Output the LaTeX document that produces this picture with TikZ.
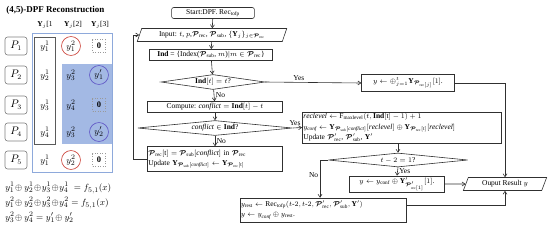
\documentclass[tikz,border=0pt]{standalone}
\usepackage{amsmath,bm}
\usepackage{fontspec}
\setmainfont{Liberation Serif}
\usetikzlibrary{arrows.meta, positioning, shapes.geometric, calc}
\definecolor{cline}{HTML}{303030}
\definecolor{cframe}{HTML}{8EA9DB}
\definecolor{cshade}{HTML}{A3B9E4}
\definecolor{cred}{HTML}{C8372D}
\definecolor{cblue}{HTML}{5B4FC4}
\definecolor{cdot}{HTML}{9A9A9A}
\newcommand{\cP}{\bm{\mathcal{P}}}
\newcommand{\Yb}{\mathbf{Y}}
\newcommand{\rmsub}[1]{\mathrm{#1}}
\tikzset{
  every picture/.style={font=\fontsize{7.5}{8.5}\selectfont, line width=0.6pt},
  proc/.style={draw=cline, rectangle, inner sep=1.5pt, minimum width=#1, minimum height=11pt},
  proc/.default=80,
  multi/.style={align=left, inner sep=0.5pt, font=\fontsize{7.5}{10.5}\selectfont},
  term/.style={proc=#1, rounded corners=2pt},
  io/.style={draw=cline, trapezium, trapezium left angle=70, trapezium right angle=110,
    trapezium stretches=true, minimum width=#1, minimum height=13pt, inner sep=1pt},
  decide/.style={draw=cline, diamond, inner sep=0pt, aspect=8, minimum width=#1, minimum height=15pt},
  arr/.style={-{Straight Barb[length=3pt, width=4pt]}, draw=cline},
  lbl/.style={font=\fontsize{7.5}{8.5}\selectfont, inner sep=1.5pt},
  pbox/.style={draw=gray, rounded corners=2.5pt, minimum width=22pt, minimum height=18pt,
    inner sep=0pt, font=\fontsize{10.5}{11}\selectfont},
  cell/.style={inner sep=0pt, font=\fontsize{9.5}{10}\selectfont},
  rcirc/.style={cell, circle, draw=cred, minimum size=19pt},
  bcirc/.style={cell, circle, draw=cblue, minimum size=19pt},
  zbox/.style={cell, draw=cdot, dotted, fill=white, minimum size=13pt, font=\bfseries\fontsize{8.5}{9}\selectfont},
}
\begin{document}
\begin{tikzpicture}[x=1bp, y=-1bp]
  \useasboundingbox (0,0) rectangle (550,228);
  % left panel: shares held by P_1..P_5
  \node[font=\bfseries\fontsize{9}{10}\selectfont, anchor=west, inner sep=0pt] (title) at (6,10) {(4,5)-DPF Reconstruction};
  \node[cell, font=\fontsize{7.5}{8}\selectfont] (h1) at (45,25) {$\Yb_j$[1};
  \node[cell, font=\fontsize{7.5}{8}\selectfont] (h2) at (73,25) {$\Yb_j$[2]};
  \node[cell, font=\fontsize{7.5}{8}\selectfont] (h3) at (100,25) {$\Yb_j$[3]};
  \draw[cframe, line width=0.8pt] (32,33) rectangle (112,172);
  \fill[cshade] (62,64) rectangle (111.5,144);
  \draw[cline!80, line width=0.9pt] (34,37) rectangle (55,144);
  \foreach \i/\y in {1/46, 2/75, 3/105, 4/132, 5/160}
    \node[pbox] (p\i) at (16,\y) {$P_{\i}$};
  \foreach \t/\y [count=\i] in {y_1^1/46, y_2^1/75, y_3^1/105, y_4^1/132, y_1^1/160}
    \node[cell] (a\i) at (45,\y) {$\t$};
  \node[rcirc] (b1) at (71,46) {$y_1^2$};
  \node[cell] (b2) at (71,75) {$y_3^2$};
  \node[cell] (b3) at (71,105) {$y_4^2$};
  \node[cell] (b4) at (71,132) {$y_3^2$};
  \node[rcirc] (b5) at (71,160) {$y_2^2$};
  \node[zbox] (c1) at (99,46) {0};
  \node[bcirc] (c2) at (99,75) {$y'_1$};
  \node[zbox, fill=cshade] (c3) at (99,105) {0};
  \node[bcirc] (c4) at (99,132) {$y'_2$};
  \node[zbox] (c5) at (99,160) {0};
  \node[cell, anchor=west] (eq1) at (5,188) {$y_1^1\!\oplus y_2^1\!\oplus\! y_3^1\!\oplus\! y_4^1 \;= f_{5,1}(x)$};
  \node[cell, anchor=west] (eq2) at (5,203) {$y_1^2\!\oplus y_2^2\!\oplus\! y_3^2\!\oplus\! y_4^2 = f_{5,1}(x)$};
  \node[cell, anchor=west] (eq3) at (5,217) {$y_3^2\!\oplus y_4^2 = y'_1\!\oplus y'_2$};
  % flowchart
  \node[term=83] (start) at (213,13) {Start:DPF. Rec$_{\rmsub{tofp}}$};
  \node[io=150] (input) at (212,35) {Input: $t$, $p$,$\cP_{\rmsub{rec}}$, $\cP_{\rmsub{sub}}$, $\{\Yb_j\}_{j\in\cP_{\rmsub{rec}}}$};
  \node[proc=124, line width=1pt] (ind) at (211,55) {$\mathbf{Ind}$ = \{Index($\cP_{\rmsub{sub}}$, $m$)$|m \in \cP_{\rmsub{rec}}$\}};
  \node[decide=104] (d1) at (213,82) {$\mathbf{Ind}[t] = t$?};
  \node[proc=136] (comp) at (215,107) {Compute: $\mathit{conflict} = \mathbf{Ind}[t] - t$};
  \node[decide=155, aspect=10] (d2) at (215,128) {$\mathit{conflict} \in \mathbf{Ind}$?};
  \node[proc=136, multi, text width=134pt, minimum height=25pt] (upd) at (215,159)
    {$\cP_{\rmsub{rec}}[\mathrm{t}] = \cP_{\rmsub{sub}}[\mathit{conflict}]$ in $\cP_{\rmsub{rec}}$\\
     Update $\Yb_{\cP_{\rmsub{sub}}[\mathit{conflict}]} \leftarrow \Yb_{\cP_{\rmsub{rec}}[\mathrm{t}]}$};
  \node[proc=93, minimum height=17pt] (yall) at (408,83) {$y \leftarrow \oplus_{j=1}^{t}\Yb_{\cP_{\rmsub{rec}[j]}}[1]$.};
  \node[proc=200, multi, text width=198pt, minimum height=31pt] (rec) at (402,127.5)
    {$\mathit{reclevel} \leftarrow \mathrm{F}_{\rmsub{maxlevel}}(t, \mathbf{Ind}[\mathrm{t}] - 1) + 1$\\
     $y_{\mathit{conf}} \leftarrow \Yb_{\cP_{\rmsub{sub}}[\mathit{conflict}]}[\mathit{reclevel}]\oplus\Yb_{\cP_{\rmsub{rec}}[\mathrm{t}]}[\mathit{reclevel}]$\\
     Update $\cP'_{\rmsub{rec}}$, $\cP'_{\rmsub{sub}}$, $\Yb'$};
  \node[decide=140, aspect=10, minimum height=14pt] (d3) at (398,160) {$t - 2 = 1$?};
  \node[proc=95, minimum height=12pt] (yconf) at (397,184) {$y \leftarrow y_{\rmsub{conf}}\oplus\Yb'_{\cP'_{\rmsub{rec}[1]}}[1]$.};
  \node[io=84] (out) at (505,184) {Ouput Result $y$};
  \node[proc=167, multi, text width=165pt, minimum height=24pt] (rest) at (323,210)
    {$y_{\rmsub{rest}} \leftarrow \mathrm{Rec}_{\rmsub{tofp}}(t\text{-}2,t\text{-}2, \cP'_{\rmsub{rec}}, \cP'_{\rmsub{sub}}, \Yb')$\\
     $y \leftarrow y_{\mathit{conf}}\oplus y_{\rmsub{rest}}$.};
  \draw[arr] (start) -- (input);
  \draw[arr] (input) -- (ind);
  \draw[arr] (ind) -- (d1);
  \draw[arr] (d1) -- node[lbl, right] {No} (comp);
  \draw[arr] (comp) -- (d2);
  \draw[arr] (d2) -- node[lbl, right] {No} (upd);
  \draw[arr] (d1.east) -- node[lbl, above, pos=0.35] {Yes} (yall.west);
  \draw[arr] (d2.east) -- node[lbl, above left, pos=0.6, xshift=4pt] {Yes} (rec.west);
  \draw[arr] (rec.south -| d3.north) -- (d3.north);
  \draw[arr] (d3.south) -- node[lbl, right] {Yes} (yconf.north);
  \draw[arr] (d3.west) -| node[lbl, left, pos=0.7] {No} (rest.north -| 320,0);
  \draw[arr] (yconf) -- (out);
  \draw[arr] (yall.east) -| (out.north);
  \coordinate (restout) at ($(rest.north east)!0.3!(rest.south east)$);
  \draw[arr] (restout) -| (out.south);
  \draw[arr] (upd.west) -- ++(-14,0) |- (input.west);
\end{tikzpicture}
\end{document}
